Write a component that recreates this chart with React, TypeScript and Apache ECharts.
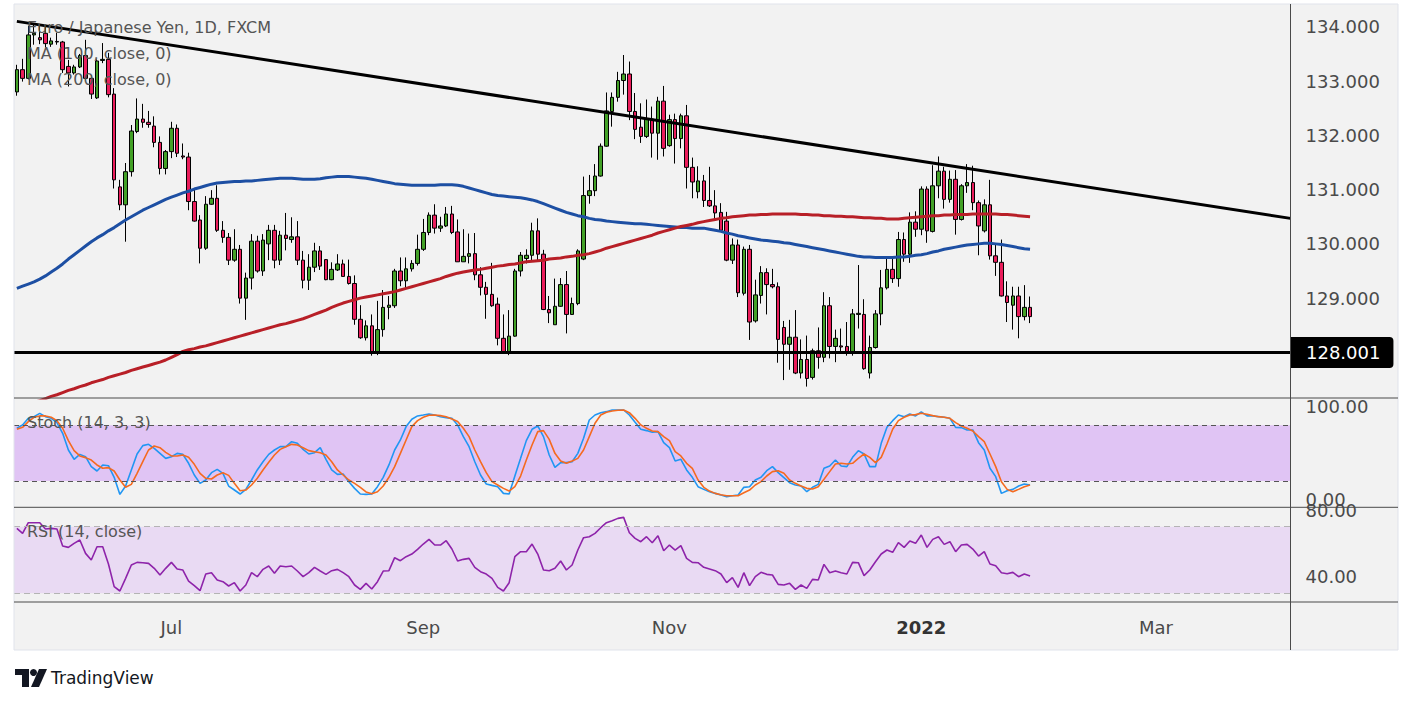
import React, { useEffect, useRef } from "react";
import * as echarts from "echarts";

// ---------- data ----------
const startDate = "2021-05-25";
const skippedDates = ["2021-12-24"];
const totalSlots = 223;

const opens = [
  132.80, 133.21, 133.05, 133.85, 133.80, 133.88, 133.68, 133.73, 133.72, 133.27,
  133.15, 133.26, 133.47, 133.05, 132.69, 133.38, 133.40, 132.76, 131.05, 130.72,
  131.33, 132.07, 132.30, 132.24, 132.17, 131.87, 131.39, 131.70, 132.13, 131.62,
  131.60, 130.78, 130.44, 129.92, 130.73, 130.84, 130.25, 130.12, 129.70, 129.90,
  129.00, 129.37, 130.05, 129.50, 130.00, 130.25, 129.70, 130.16, 130.08, 130.13,
  129.70, 129.33, 129.57, 129.87, 129.71, 129.34, 129.52, 129.63, 129.40, 129.27,
  128.61, 128.27, 128.49, 128.01, 128.42, 128.83, 128.86, 129.50, 129.32, 129.54,
  129.64, 129.90, 130.21, 130.53, 130.29, 130.33, 130.55, 130.22, 129.67, 129.77,
  129.82, 129.43, 129.20, 129.07, 128.89, 128.26, 128.01, 128.30, 129.50, 129.73,
  129.79, 130.24, 129.81, 128.79, 128.51, 128.85, 129.25, 128.70, 128.90, 129.72,
  130.89, 130.98, 131.25, 131.80, 132.44, 132.70, 133.01, 133.13, 132.44, 132.15,
  131.98, 132.30, 132.04, 132.63, 131.81, 132.29, 131.94, 132.36, 131.41, 130.96,
  131.16, 130.80, 130.70, 130.58, 130.42, 129.70, 129.98, 129.09, 129.90, 128.58,
  129.05, 129.47, 129.25, 129.21, 128.46, 128.15, 128.28, 127.62, 127.87, 127.54,
  128.03, 127.91, 128.86, 128.11, 128.12, 128.11, 127.98, 128.70, 128.70, 127.62,
  128.09, 128.71, 129.19, 129.53, 129.36, 130.08, 129.81, 130.40, 130.27, 131.01,
  130.23, 131.07, 131.34, 130.82, 131.19, 130.45, 131.07, 131.13, 130.76, 130.24,
  130.72, 129.78, 129.66, 129.04, 128.87, 129.04, 128.66, 128.83,
];

const closes = [
  133.21, 133.05, 133.85, 133.88, 133.76, 133.69, 133.74, 133.72, 133.21, 133.15,
  133.26, 133.47, 133.05, 132.76, 133.37, 133.40, 132.75, 131.18, 130.72, 131.33,
  132.08, 132.30, 132.24, 132.20, 131.87, 131.39, 131.70, 132.13, 131.67, 131.60,
  130.78, 130.42, 129.92, 130.73, 130.84, 130.25, 130.12, 129.70, 129.90, 129.00,
  129.37, 130.05, 129.50, 130.07, 130.25, 129.70, 130.16, 130.10, 130.13, 129.70,
  129.33, 129.57, 129.87, 129.59, 129.34, 129.53, 129.63, 129.40, 129.27, 128.61,
  128.27, 128.49, 128.01, 128.42, 128.83, 128.87, 129.50, 129.32, 129.54, 129.64,
  129.90, 130.21, 130.53, 130.29, 130.33, 130.55, 130.21, 129.67, 129.77, 129.82,
  129.43, 129.20, 129.07, 128.86, 128.26, 128.01, 128.30, 129.50, 129.79, 129.79,
  130.24, 129.81, 128.79, 128.73, 128.85, 129.25, 128.70, 128.90, 129.87, 130.89,
  130.98, 131.25, 131.80, 132.45, 132.70, 133.01, 133.13, 132.44, 132.11, 131.98,
  132.30, 132.04, 132.63, 131.76, 132.29, 131.94, 132.36, 131.41, 131.14, 131.16,
  130.80, 130.70, 130.57, 130.25, 129.70, 129.98, 129.10, 129.90, 128.56, 129.06,
  129.47, 129.25, 129.21, 128.24, 128.15, 128.28, 127.62, 127.87, 127.52, 128.03,
  127.91, 128.86, 128.11, 128.26, 128.10, 127.99, 128.71, 128.72, 127.70, 128.09,
  128.71, 129.19, 129.53, 129.36, 130.08, 129.81, 130.40, 130.27, 131.01, 130.24,
  131.07, 131.34, 130.82, 131.19, 130.45, 131.07, 131.13, 130.76, 130.33, 130.72,
  129.78, 129.66, 129.04, 128.92, 129.04, 128.66, 128.83, 128.66,
];

const lows = [
  132.73, 132.99, 133.03, 133.67, 133.68, 133.62, 133.63, 133.67, 133.15, 132.90,
  133.12, 133.24, 133.02, 132.67, 132.67, 133.33, 132.70, 131.02, 130.62, 130.04,
  131.24, 132.04, 132.14, 132.14, 131.78, 131.28, 131.28, 131.58, 131.60, 131.56,
  130.62, 130.41, 129.64, 129.89, 130.72, 130.22, 130.02, 129.61, 129.67, 128.90,
  128.60, 129.16, 129.47, 129.41, 129.70, 129.55, 129.61, 129.88, 130.02, 129.61,
  129.18, 129.15, 129.48, 129.52, 129.33, 129.33, 129.50, 129.40, 129.25, 128.51,
  128.25, 128.22, 127.94, 127.95, 128.29, 128.61, 128.82, 129.22, 129.15, 129.49,
  129.60, 129.87, 130.16, 130.19, 130.22, 130.31, 130.18, 129.67, 129.67, 129.64,
  129.33, 129.05, 128.62, 128.84, 128.13, 127.99, 127.95, 128.29, 129.40, 129.64,
  129.67, 129.68, 128.78, 128.54, 128.51, 128.84, 128.35, 128.69, 128.87, 129.70,
  130.74, 130.88, 131.24, 131.79, 132.16, 132.62, 132.75, 132.28, 131.93, 131.86,
  131.95, 131.59, 131.55, 131.61, 131.79, 131.48, 131.76, 131.02, 130.84, 130.84,
  130.68, 130.68, 130.44, 130.22, 129.68, 129.63, 129.02, 129.05, 128.23, 128.55,
  128.90, 128.70, 129.18, 127.81, 127.49, 127.68, 127.60, 127.52, 127.37, 127.50,
  127.70, 127.82, 127.89, 127.82, 127.99, 127.94, 127.94, 128.44, 127.68, 127.52,
  128.07, 128.50, 129.16, 129.28, 129.21, 129.67, 129.65, 130.13, 130.16, 130.02,
  130.21, 130.84, 130.65, 130.76, 130.17, 130.43, 130.94, 130.62, 129.79, 130.21,
  129.71, 129.41, 129.03, 128.56, 128.42, 128.26, 128.59, 128.54,
];

const highs = [
  133.30, 133.41, 134.02, 134.04, 134.03, 134.02, 133.80, 133.89, 133.74, 133.39,
  133.30, 133.50, 133.76, 133.11, 133.40, 133.70, 133.52, 132.87, 131.18, 131.49,
  132.19, 132.68, 132.58, 132.45, 132.35, 131.98, 131.73, 132.25, 132.20, 131.85,
  131.68, 131.02, 130.53, 130.88, 130.99, 131.08, 130.42, 130.20, 130.27, 129.98,
  129.47, 130.18, 130.15, 130.18, 130.35, 130.35, 130.24, 130.57, 130.49, 130.42,
  129.87, 129.81, 130.02, 129.96, 129.72, 129.66, 129.81, 129.71, 129.71, 129.42,
  128.87, 128.59, 128.70, 128.95, 129.15, 129.04, 129.54, 129.75, 129.75, 129.70,
  130.17, 130.46, 130.58, 130.73, 130.50, 130.68, 130.70, 130.45, 130.27, 130.19,
  130.20, 129.57, 129.30, 129.65, 129.01, 128.70, 128.78, 129.54, 129.85, 129.90,
  130.39, 130.47, 129.89, 129.04, 129.36, 129.37, 129.50, 129.01, 129.90, 131.24,
  131.27, 131.47, 131.85, 132.79, 132.79, 133.17, 133.48, 133.36, 132.78, 132.59,
  132.66, 132.53, 132.71, 132.91, 132.38, 132.40, 132.40, 132.56, 131.59, 131.43,
  131.27, 131.42, 130.99, 130.75, 130.59, 130.10, 130.08, 129.95, 129.98, 129.34,
  129.59, 129.55, 129.54, 129.29, 128.58, 128.60, 128.78, 128.24, 128.31, 128.07,
  128.46, 129.11, 129.02, 128.42, 128.44, 128.56, 128.80, 129.61, 128.98, 128.31,
  128.78, 129.52, 129.73, 129.76, 130.22, 130.21, 130.58, 130.60, 131.06, 131.06,
  131.45, 131.61, 131.42, 131.35, 131.36, 131.10, 131.47, 131.44, 130.80, 130.82,
  131.18, 129.98, 130.08, 129.31, 129.21, 129.21, 129.24, 129.03,
];

const ma100 = [
  129.18, 129.22, 129.26, 129.30, 129.35, 129.41, 129.48, 129.55, 129.63, 129.72,
  129.80, 129.88, 129.96, 130.04, 130.11, 130.17, 130.24, 130.30, 130.37, 130.44,
  130.50, 130.56, 130.62, 130.67, 130.72, 130.77, 130.82, 130.86, 130.90, 130.94,
  130.97, 131.01, 131.04, 131.07, 131.10, 131.12, 131.13, 131.14, 131.15, 131.15,
  131.16, 131.16, 131.17, 131.18, 131.19, 131.20, 131.21, 131.21, 131.21, 131.20,
  131.19, 131.19, 131.19, 131.20, 131.22, 131.23, 131.24, 131.24, 131.24, 131.23,
  131.22, 131.21, 131.19, 131.17, 131.15, 131.13, 131.11, 131.10, 131.09, 131.08,
  131.08, 131.08, 131.08, 131.08, 131.09, 131.09, 131.09, 131.08, 131.06, 131.03,
  131.00, 130.97, 130.94, 130.91, 130.89, 130.88, 130.87, 130.86, 130.85, 130.83,
  130.81, 130.78, 130.74, 130.70, 130.66, 130.62, 130.58, 130.55, 130.52, 130.50,
  130.47, 130.45, 130.44, 130.42, 130.41, 130.40, 130.39, 130.38, 130.37, 130.37,
  130.36, 130.35, 130.34, 130.33, 130.32, 130.31, 130.30, 130.30, 130.29, 130.29,
  130.29, 130.27, 130.25, 130.23, 130.20, 130.18, 130.15, 130.13, 130.11, 130.09,
  130.07, 130.06, 130.05, 130.04, 130.02, 130.01, 129.99, 129.97, 129.95, 129.93,
  129.91, 129.89, 129.87, 129.85, 129.83, 129.81, 129.79, 129.77, 129.76, 129.76,
  129.75, 129.75, 129.75, 129.75, 129.76, 129.76, 129.77, 129.79, 129.80, 129.82,
  129.85, 129.87, 129.90, 129.92, 129.94, 129.96, 129.98, 129.99, 130.00, 130.01,
  130.01, 130.00, 129.99, 129.97, 129.95, 129.93, 129.91, 129.90,
];

const ma200 = [
  126.98, 127.01, 127.04, 127.08, 127.11, 127.15, 127.19, 127.22, 127.26, 127.30,
  127.33, 127.37, 127.40, 127.44, 127.47, 127.50, 127.54, 127.57, 127.60, 127.63,
  127.67, 127.70, 127.73, 127.76, 127.79, 127.82, 127.86, 127.91, 127.96, 128.02,
  128.05, 128.07, 128.10, 128.12, 128.15, 128.18, 128.21, 128.24, 128.27, 128.30,
  128.33, 128.36, 128.39, 128.42, 128.45, 128.48, 128.51, 128.53, 128.56, 128.59,
  128.62, 128.66, 128.70, 128.74, 128.78, 128.83, 128.87, 128.91, 128.94, 128.97,
  129.00, 129.02, 129.04, 129.06, 129.08, 129.10, 129.12, 129.15, 129.18, 129.21,
  129.24, 129.27, 129.30, 129.33, 129.36, 129.40, 129.43, 129.46, 129.48, 129.50,
  129.52, 129.53, 129.55, 129.57, 129.59, 129.60, 129.62, 129.63, 129.65, 129.67,
  129.68, 129.69, 129.70, 129.72, 129.73, 129.74, 129.76, 129.77, 129.79, 129.80,
  129.82, 129.85, 129.88, 129.92, 129.95, 129.98, 130.01, 130.04, 130.07, 130.10,
  130.13, 130.16, 130.20, 130.23, 130.26, 130.29, 130.32, 130.34, 130.36, 130.39,
  130.41, 130.43, 130.45, 130.47, 130.48, 130.50, 130.51, 130.52, 130.53, 130.53,
  130.54, 130.54, 130.55, 130.55, 130.55, 130.55, 130.55, 130.54, 130.54, 130.53,
  130.53, 130.52, 130.52, 130.51, 130.51, 130.50, 130.50, 130.49, 130.48, 130.48,
  130.47, 130.47, 130.46, 130.46, 130.46, 130.47, 130.48, 130.49, 130.50, 130.51,
  130.52, 130.52, 130.53, 130.53, 130.54, 130.54, 130.54, 130.55, 130.55, 130.55,
  130.55, 130.55, 130.54, 130.54, 130.53, 130.52, 130.51, 130.50,
];

const stochK = [
  76.8, 80.4, 87.5, 89.3, 92.9, 89.3, 87.5, 82.9, 71.4, 53.4,
  43.4, 48.7, 46.2, 35.5, 30.8, 37.3, 36.5, 24.0, 5.6, 14.6,
  31.9, 49.1, 58.1, 59.5, 55.2, 49.8, 44.4, 46.2, 49.8, 48.7,
  39.1, 26.5, 17.5, 21.1, 29.0, 32.6, 28.3, 14.6, 10.3, 6.0,
  11.0, 21.1, 31.9, 40.8, 48.7, 53.4, 57.0, 57.0, 62.4, 60.6,
  54.1, 49.1, 50.5, 55.9, 43.4, 31.9, 27.2, 27.6, 19.3, 12.1,
  6.0, 5.6, 6.0, 13.9, 24.0, 37.3, 53.4, 64.2, 78.6, 86.5,
  90.1, 91.1, 92.2, 91.1, 89.3, 88.3, 87.5, 80.4, 67.8, 57.0,
  40.8, 26.5, 16.8, 15.3, 13.9, 6.7, 6.0, 25.4, 44.4, 63.5,
  75.7, 79.3, 67.8, 48.0, 34.7, 39.8, 39.8, 40.8, 49.8, 66.0,
  85.7, 91.1, 93.6, 94.7, 96.5, 96.5, 96.5, 91.1, 83.2, 75.7,
  74.3, 72.5, 73.2, 61.3, 55.9, 41.6, 43.4, 31.9, 24.0, 13.9,
  11.0, 8.5, 6.7, 4.9, 3.1, 4.2, 4.9, 13.2, 13.9, 21.1,
  24.0, 31.1, 35.5, 29.0, 23.6, 18.2, 15.7, 14.6, 8.5, 13.2,
  16.4, 33.7, 36.2, 42.6, 36.2, 35.5, 45.5, 52.7, 49.1, 35.5,
  35.5, 60.6, 77.8, 85.0, 91.1, 89.3, 92.2, 90.1, 94.4, 90.1,
  90.1, 89.3, 88.6, 87.5, 77.8, 77.5, 75.0, 75.0, 61.3, 53.4,
  33.7, 24.7, 6.7, 9.6, 11.0, 14.6, 16.8, 15.7,
];

const stochD = [
  75.7, 77.8, 84.0, 88.6, 90.1, 90.1, 88.6, 85.0, 76.8, 63.5,
  52.7, 47.0, 45.2, 42.6, 37.3, 33.7, 34.4, 30.8, 21.1, 13.2,
  16.4, 28.3, 40.8, 53.4, 57.7, 55.9, 50.9, 47.0, 47.0, 48.0,
  45.5, 38.0, 28.3, 22.9, 22.2, 26.5, 29.0, 26.1, 17.5, 9.6,
  10.3, 15.7, 22.9, 31.9, 40.1, 48.0, 54.1, 57.0, 59.5, 58.8,
  55.9, 52.7, 51.6, 50.5, 48.0, 40.8, 31.9, 26.5, 21.1, 17.5,
  13.2, 8.2, 6.4, 8.5, 14.6, 24.0, 35.5, 49.8, 64.2, 78.6,
  85.0, 88.6, 90.8, 91.1, 90.4, 89.3, 86.8, 84.0, 76.8, 67.8,
  53.4, 40.8, 29.0, 19.3, 15.7, 12.1, 9.2, 13.9, 25.4, 42.6,
  58.8, 73.2, 74.3, 64.9, 49.8, 41.6, 39.1, 41.6, 44.4, 53.4,
  67.8, 82.2, 91.1, 94.0, 95.4, 96.2, 96.5, 93.6, 87.5, 80.4,
  76.8, 73.9, 73.2, 67.8, 63.5, 51.6, 47.0, 39.1, 33.7, 21.1,
  13.2, 9.2, 6.7, 5.3, 4.2, 4.2, 4.2, 7.4, 10.3, 15.7,
  19.3, 25.4, 30.1, 31.1, 28.3, 21.1, 17.5, 14.6, 12.1, 11.4,
  13.9, 21.8, 30.1, 38.3, 39.1, 38.3, 39.1, 44.4, 49.1, 45.5,
  39.8, 45.5, 59.9, 75.7, 85.0, 88.6, 91.1, 91.5, 92.9, 91.9,
  90.4, 89.3, 88.6, 87.5, 82.9, 79.3, 76.8, 73.9, 67.8, 62.4,
  49.1, 35.5, 19.3, 11.0, 8.5, 11.0, 13.9, 15.7,
];

const rsi = [
  69.0, 66.0, 72.4, 72.4, 72.4, 68.6, 69.0, 68.6, 58.4, 57.6,
  60.0, 62.0, 54.0, 50.0, 58.0, 58.0, 47.6, 34.0, 31.4, 39.0,
  47.0, 48.6, 48.4, 48.0, 45.0, 41.0, 45.0, 48.6, 44.6, 44.0,
  37.4, 34.6, 31.6, 41.6, 42.4, 38.0, 37.0, 34.4, 36.4, 31.4,
  35.0, 42.4, 40.0, 44.4, 46.4, 42.0, 46.4, 46.0, 46.4, 43.4,
  40.0, 42.4, 45.6, 43.4, 41.4, 43.6, 44.4, 42.4, 40.0, 35.0,
  32.4, 36.0, 32.6, 37.0, 43.4, 43.6, 51.4, 49.6, 52.0, 53.6,
  56.4, 59.6, 62.4, 59.0, 59.0, 61.6, 56.6, 49.4, 50.4, 51.0,
  45.6, 43.0, 41.6, 39.0, 33.6, 31.4, 36.4, 52.0, 55.0, 55.0,
  59.6, 53.6, 44.0, 43.6, 45.0, 49.4, 44.0, 47.0, 56.0, 63.4,
  64.0, 66.0, 69.4, 72.4, 73.6, 75.0, 75.6, 66.4, 63.0, 61.0,
  64.0, 60.4, 64.6, 55.6, 59.0, 56.0, 58.6, 51.0, 48.6, 48.4,
  45.6, 44.6, 43.6, 41.6, 36.4, 39.4, 33.6, 42.4, 34.6, 40.0,
  42.6, 41.4, 41.0, 35.4, 35.0, 36.0, 32.4, 35.0, 33.0, 38.4,
  38.0, 47.4, 42.4, 43.4, 42.4, 41.6, 48.6, 48.4, 40.6, 44.0,
  49.0, 53.6, 56.0, 54.6, 60.4, 57.6, 61.4, 60.0, 65.0, 57.6,
  62.4, 64.0, 59.4, 61.0, 55.0, 59.0, 59.4, 56.6, 52.4, 55.0,
  47.6, 46.6, 42.4, 41.8, 42.6, 40.0, 41.6, 40.4,
];

const monthTicks = ["2021-07-01", "2021-09-01", "2021-11-01", "2022-01-03", "2022-03-01"];
const monthText = ["Jul", "Sep", "Nov", "2022", "Mar"];
const priceTicks = [129, 130, 131, 132, 133, 134];
const stochTicks = [0, 100];
const rsiTicks = [40, 80];
const stochBand = [20, 80];
const rsiBand = [30, 70];
const supportLevel = 128.001;
const trendStart = 134.1;
const trendEnd = 130.47;

function buildDates(): string[] {
  const out: string[] = [];
  const d = new Date(startDate + "T00:00:00Z");
  while (out.length < totalSlots) {
    const wd = d.getUTCDay();
    const s = d.toISOString().slice(0, 10);
    if (wd !== 0 && wd !== 6 && skippedDates.indexOf(s) < 0) out.push(s);
    d.setUTCDate(d.getUTCDate() + 1);
  }
  return out;
}

const FONT = "DejaVu Sans";
const TXT = "#4a4a4a";

export default function App() {
  const ref = useRef<HTMLDivElement>(null);

  useEffect(() => {
    if (!ref.current) return;
    const chart = echarts.init(ref.current, undefined, { renderer: "svg" });
    const dates = buildDates();
    const candles = opens.map((o, i) => [o, closes[i], lows[i], highs[i]]);

    const gridLeft = 14;
    const gridWidth = 1276.5;

    const catAxis = (gridIndex: number, extra: any = {}) => ({
      type: "category",
      gridIndex,
      data: dates,
      boundaryGap: true,
      axisLine: { show: false },
      axisTick: { show: false },
      splitLine: { show: false },
      axisLabel: { show: false },
      ...extra,
    });

    const valAxis = (gridIndex: number, min: number, max: number, ticks: number[], digits: number) => ({
      type: "value",
      gridIndex,
      position: "right",
      min,
      max,
      splitLine: { show: false },
      axisLine: { show: false },
      axisTick: { show: false },
      axisLabel: {
        show: true,
        customValues: ticks,
        formatter: (v: number) => v.toFixed(digits),
        margin: 15,
        fontSize: 18,
        fontFamily: FONT,
        color: TXT,
      },
    });

    const option: any = {
      animation: false,
      backgroundColor: "#f2f2f2",
      grid: [
        { left: gridLeft, top: 4, width: gridWidth, height: 394 },
        { left: gridLeft, top: 398, width: gridWidth, height: 109.3 },
        { left: gridLeft, top: 507.3, width: gridWidth, height: 94.7 },
      ],
      xAxis: [
        catAxis(0),
        catAxis(1),
        catAxis(2, {
          axisLabel: {
            show: true,
            interval: (_i: number, v: string) => monthTicks.indexOf(v) >= 0,
            formatter: (v: string) => {
              const k = monthTicks.indexOf(v);
              if (k < 0) return "";
              const t = monthText[k];
              return /^\d{4}$/.test(t) ? "{y|" + t + "}" : t;
            },
            margin: 16,
            fontSize: 18,
            fontFamily: FONT,
            color: TXT,
            rich: { y: { fontSize: 18, fontFamily: FONT, color: "#333", fontWeight: "bold" } },
          },
        }),
        { type: "value", gridIndex: 0, min: -0.5, max: totalSlots - 0.5, show: false },
      ],
      yAxis: [
        valAxis(0, 127.16, 134.42, priceTicks, 3),
        valAxis(1, -8.3, 109.4, stochTicks, 2),
        valAxis(2, 24.8, 81.65, rsiTicks, 2),
      ],
      series: [
        {
          type: "candlestick",
          xAxisIndex: 0,
          yAxisIndex: 0,
          data: candles,
          barWidth: 4,
          z: 3,
          itemStyle: {
            color: "#43a127",
            color0: "#ea1d5b",
            borderColor: "#000",
            borderColor0: "#000",
            borderWidth: 1,
          },
          markLine: {
            silent: true,
            symbol: ["none", "none"],
            lineStyle: { color: "#000", width: 3, type: "solid" },
            label: {
              show: true,
              position: "end",
              distance: 0.5,
              formatter: () => supportLevel.toFixed(3),
              backgroundColor: "#000",
              color: "#fff",
              fontSize: 18,
              fontFamily: FONT,
              padding: [7, 13, 6, 15],
              borderRadius: [0, 4, 4, 0],
            },
            data: [{ yAxis: supportLevel }],
          },
        },
        {
          type: "line",
          xAxisIndex: 0,
          yAxisIndex: 0,
          data: ma100,
          showSymbol: false,
          z: 4,
          lineStyle: { color: "#1d4fa3", width: 3 },
        },
        {
          type: "line",
          xAxisIndex: 0,
          yAxisIndex: 0,
          data: ma200,
          showSymbol: false,
          z: 4,
          lineStyle: { color: "#b81f27", width: 3 },
        },
        {
          type: "line",
          xAxisIndex: 3,
          yAxisIndex: 0,
          data: [
            [0, trendStart],
            [totalSlots - 0.5, trendEnd],
          ],
          showSymbol: false,
          z: 5,
          lineStyle: { color: "#000", width: 3 },
        },
        {
          type: "line",
          xAxisIndex: 1,
          yAxisIndex: 1,
          data: stochK,
          showSymbol: false,
          z: 3,
          lineStyle: { color: "#2196f3", width: 1.6 },
          markArea: {
            silent: true,
            itemStyle: { color: "#e0c4f4" },
            data: [[{ yAxis: stochBand[0] }, { yAxis: stochBand[1] }]],
          },
          markLine: {
            silent: true,
            symbol: ["none", "none"],
            label: { show: false },
            lineStyle: { color: "#555", width: 1, type: [5, 4] },
            data: [{ yAxis: stochBand[0] }, { yAxis: stochBand[1] }],
          },
        },
        {
          type: "line",
          xAxisIndex: 1,
          yAxisIndex: 1,
          data: stochD,
          showSymbol: false,
          z: 4,
          lineStyle: { color: "#f56a1f", width: 1.6 },
        },
        {
          type: "line",
          xAxisIndex: 2,
          yAxisIndex: 2,
          data: rsi,
          showSymbol: false,
          z: 3,
          lineStyle: { color: "#8e24aa", width: 1.6 },
          markArea: {
            silent: true,
            itemStyle: { color: "#e9daf3" },
            data: [[{ yAxis: rsiBand[0] }, { yAxis: rsiBand[1] }]],
          },
          markLine: {
            silent: true,
            symbol: ["none", "none"],
            label: { show: false },
            lineStyle: { color: "#b4b4b4", width: 1, type: [6, 4] },
            data: [{ yAxis: rsiBand[0] }, { yAxis: rsiBand[1] }],
          },
        },
      ],
      graphic: [
        // white page outside the chart frame
        { type: "rect", silent: true, z: 50, shape: { x: 0, y: 650, width: 1413, height: 53 }, style: { fill: "#fff" } },
        { type: "rect", silent: true, z: 50, shape: { x: 0, y: 0, width: 14, height: 703 }, style: { fill: "#fff" } },
        { type: "rect", silent: true, z: 50, shape: { x: 1398, y: 0, width: 15, height: 703 }, style: { fill: "#fff" } },
        { type: "rect", silent: true, z: 50, shape: { x: 0, y: 0, width: 1413, height: 4 }, style: { fill: "#fff" } },
        { type: "rect", silent: true, z: 51, shape: { x: 14, y: 4, width: 1384, height: 646 }, style: { fill: "none", stroke: "#e0e3eb", lineWidth: 1 } },
        // pane separators
        { type: "line", silent: true, z: 52, shape: { x1: 14, y1: 398, x2: 1398, y2: 398 }, style: { stroke: "#4a4a4a", lineWidth: 1 } },
        { type: "line", silent: true, z: 52, shape: { x1: 14, y1: 507.3, x2: 1398, y2: 507.3 }, style: { stroke: "#4a4a4a", lineWidth: 1 } },
        { type: "line", silent: true, z: 52, shape: { x1: 14, y1: 602, x2: 1398, y2: 602 }, style: { stroke: "#4a4a4a", lineWidth: 1 } },
        { type: "line", silent: true, z: 52, shape: { x1: 1290.5, y1: 4, x2: 1290.5, y2: 650 }, style: { stroke: "#4a4a4a", lineWidth: 1 } },
        // legends
        { type: "text", silent: true, z: 60, x: 27, y: 27, style: { text: "Euro / Japanese Yen, 1D, FXCM", fill: "#555", font: "16px 'DejaVu Sans'", textVerticalAlign: "middle" } },
        { type: "text", silent: true, z: 60, x: 27, y: 53, style: { text: "MA (100, close, 0)", fill: "#555", font: "16px 'DejaVu Sans'", textVerticalAlign: "middle" } },
        { type: "text", silent: true, z: 60, x: 27, y: 79, style: { text: "MA (200, close, 0)", fill: "#555", font: "16px 'DejaVu Sans'", textVerticalAlign: "middle" } },
        { type: "text", silent: true, z: 60, x: 27, y: 422, style: { text: "Stoch (14, 3, 3)", fill: "#555", font: "16px 'DejaVu Sans'", textVerticalAlign: "middle" } },
        { type: "text", silent: true, z: 60, x: 27, y: 531, style: { text: "RSI (14, close)", fill: "#555", font: "16px 'DejaVu Sans'", textVerticalAlign: "middle" } },
        // TradingView logo
        { type: "polygon", silent: true, z: 60, shape: { points: [[15, 669], [29, 669], [29, 687], [22, 687], [22, 675], [15, 675]] }, style: { fill: "#131722" } },
        { type: "circle", silent: true, z: 60, shape: { cx: 33.5, cy: 672.5, r: 3.5 }, style: { fill: "#131722" } },
        { type: "polygon", silent: true, z: 60, shape: { points: [[39, 669], [47, 669], [39, 687], [31, 687]] }, style: { fill: "#131722" } },
        { type: "text", silent: true, z: 60, x: 51, y: 678, style: { text: "TradingView", fill: "#131722", font: "17px 'DejaVu Sans'", textVerticalAlign: "middle" } },
      ],
    };

    chart.setOption(option);
    return () => chart.dispose();
  }, []);

  return (
    <div
      ref={ref}
      style={{ position: "absolute", left: 0, top: 0, width: 1413, height: 703 }}
    />
  );
}
